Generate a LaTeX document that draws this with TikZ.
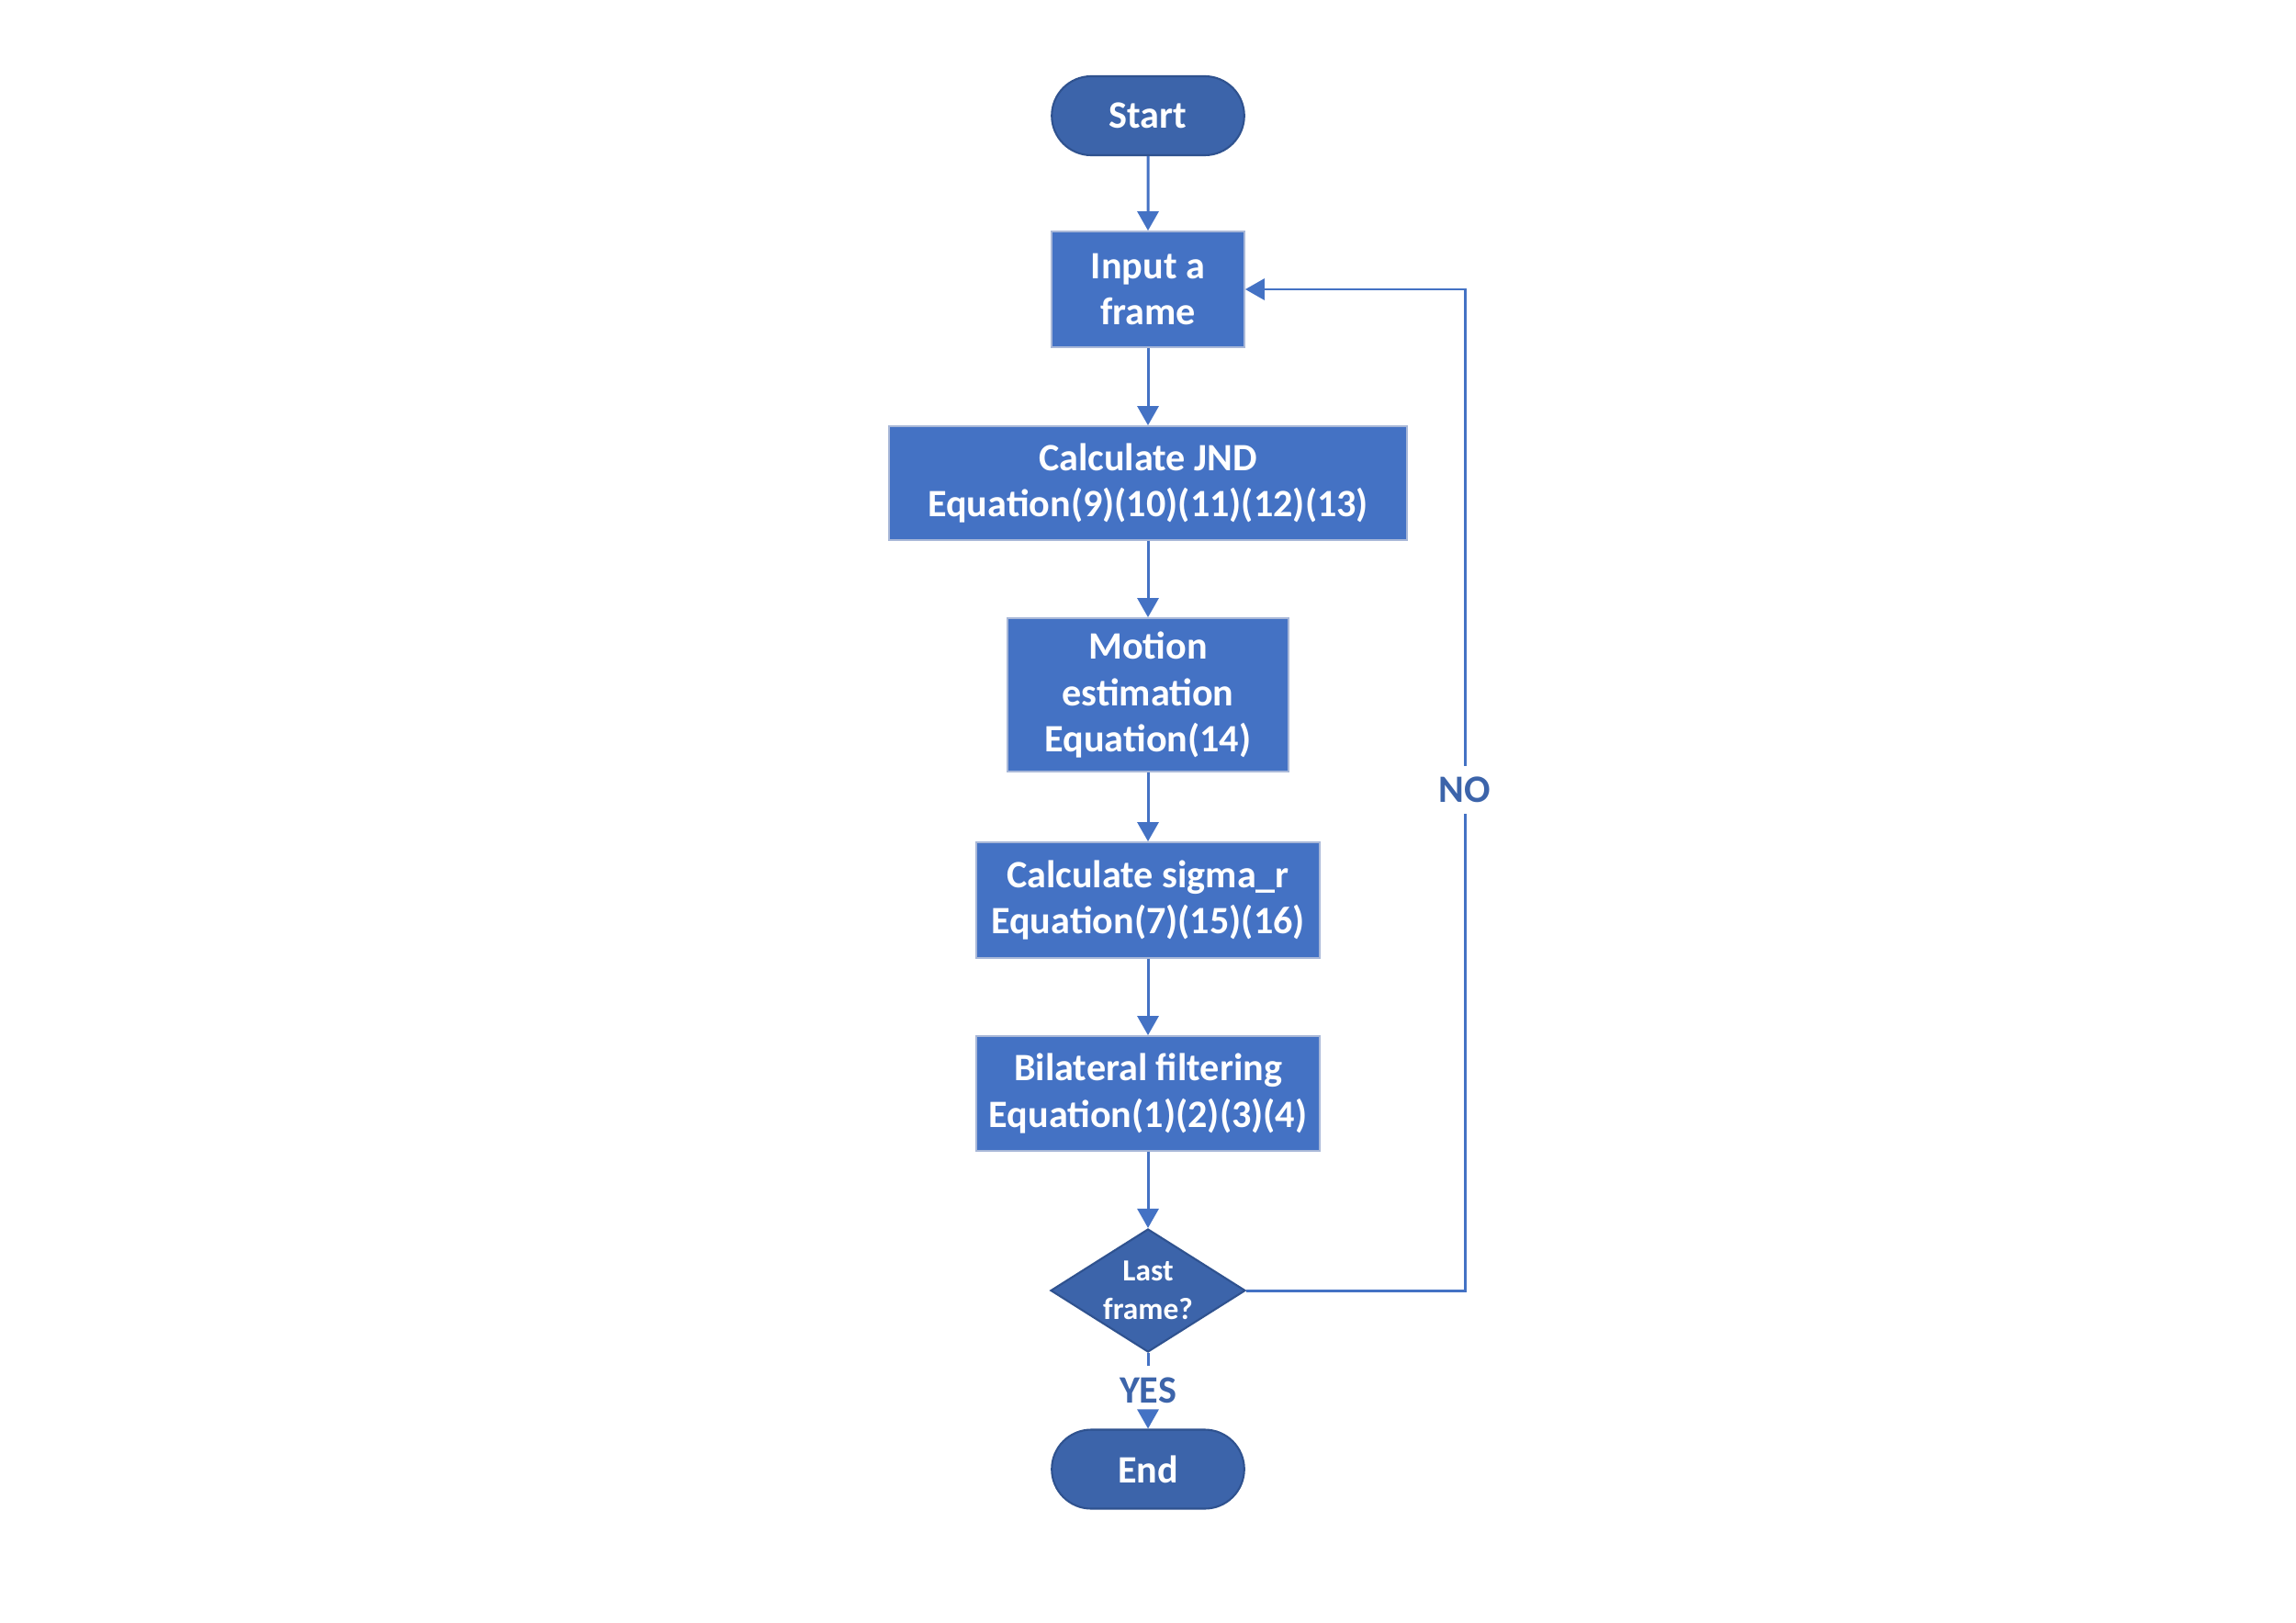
\documentclass[tikz,border=0pt]{standalone}
\usepackage{fontspec}
\setmainfont{Carlito}
\usetikzlibrary{shapes.geometric,shapes.misc,arrows.meta}
\definecolor{boxblue}{HTML}{4472C4}
\definecolor{darkblue}{HTML}{3C64AA}
\definecolor{termline}{HTML}{2F528F}
\definecolor{boxline}{HTML}{A9B8D8}
\tikzset{
  proc/.style={rectangle, fill=boxblue, draw=boxline, line width=0.5pt, text=white,
    font=\fontsize{12}{14.4}\selectfont\bfseries, align=center, inner sep=0pt},
  term/.style={rounded rectangle, fill=darkblue, draw=termline, line width=0.6pt, text=white,
    font=\fontsize{12}{14.4}\selectfont\bfseries, minimum width=2.33cm, minimum height=0.86cm},
  decision/.style={diamond, aspect=1.58, fill=darkblue, draw=termline, line width=0.6pt, text=white,
    font=\fontsize{9.5}{11.9}\selectfont\bfseries, align=center, inner sep=0pt,
    minimum width=2.12cm, minimum height=1.34cm},
  answer/.style={text=darkblue, font=\fontsize{12}{14.4}\selectfont\bfseries, inner sep=0.115cm},
  link/.style={boxblue, line width=0.85pt},
  arrow/.style={link, -{Triangle[length=0.21cm,width=0.23cm]}}
}
\begin{document}
\begin{tikzpicture}
    \useasboundingbox (0,0) rectangle (25,-17.67);
    % steps of the loop
    \node[term] (start) at (12.5,-1.26) {Start};
    \node[proc, minimum width=2.10cm, minimum height=1.26cm] (input) at (12.5,-3.15) {Input a\\frame};
    \node[proc, minimum width=5.64cm, minimum height=1.24cm] (jnd) at (12.5,-5.26) {Calculate JND\\Equation(9)(10)(11)(12)(13)};
    \node[proc, minimum width=3.06cm, minimum height=1.67cm] (motion) at (12.5,-7.565) {Motion\\estimation\\Equation(14)};
    \node[proc, minimum width=3.74cm, minimum height=1.26cm] (sigma) at (12.5,-9.80) {Calculate sigma\_r\\Equation(7)(15)(16)};
    \node[proc, minimum width=3.74cm, minimum height=1.25cm] (bil) at (12.5,-11.905) {Bilateral filtering\\Equation(1)(2)(3)(4)};
    \node[decision] (last) at (12.5,-14.05) {Last\\frame?};
    \node[answer] (yes) at (12.5,-15.135) {YES};
    \node[term] (end) at (12.5,-15.995) {End};
    \node[answer] (no) at (15.95,-8.6) {NO};
    % connectors
    \foreach \a/\b in {start/input,input/jnd,jnd/motion,motion/sigma,sigma/bil,bil/last} { \draw[arrow] (\a) -- (\b); }
    \draw[link] (last) -- (yes);
    \draw[arrow] (yes) -- (end);
    \draw[link] (last.east) -| (no);
    \draw[arrow] (no) |- (input.east);
\end{tikzpicture}
\end{document}
